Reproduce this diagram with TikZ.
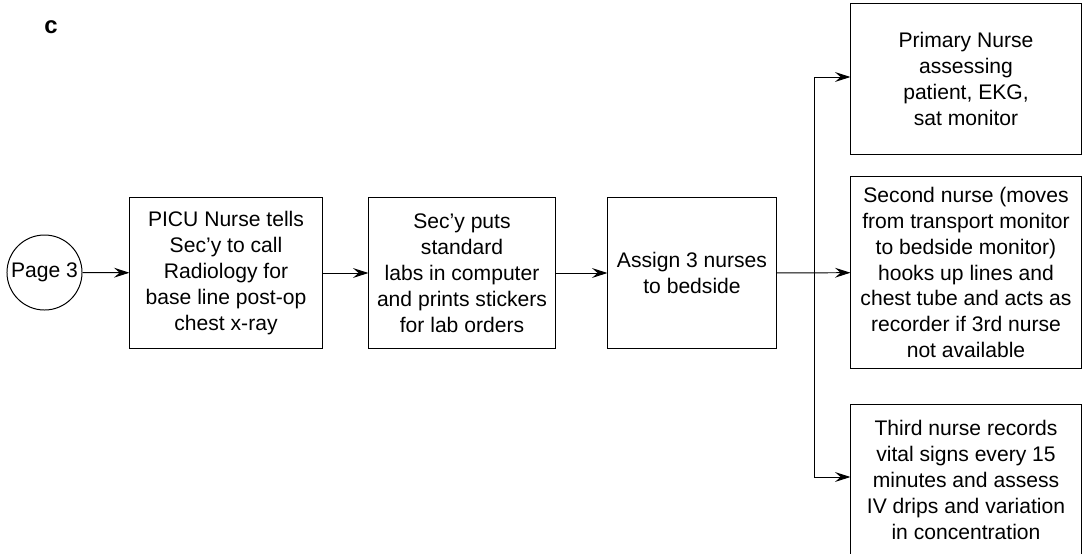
\documentclass[tikz,border=0pt]{standalone}
\usepackage{fontspec}
\setmainfont{Liberation Sans}
\usepackage{tikz}
\usetikzlibrary{arrows.meta}

\begin{document}
\begin{tikzpicture}[x=0.025cm,y=-0.025cm,
  font=\fontsize{15pt}{18.4pt}\selectfont,
  box/.style={rectangle,draw,line width=0.7pt,align=center,inner sep=2pt,minimum height=3.75cm},
  flow/.style={-{Stealth[length=11pt,width=7pt,inset=4pt]},line width=0.7pt}]
\useasboundingbox (0,0) rectangle (1082,553);
\clip (0,0) rectangle (1082,553);
\node (L) at (51,27) {\fontsize{17pt}{17pt}\selectfont\textbf{c}};
\node (P3) at (44.5,272.5) [circle,draw,line width=0.7pt,inner sep=0pt,minimum size=1.875cm] {Page 3};
\node (CX) at (226,273) [box,minimum width=4.8cm] {PICU Nurse tells\\Sec'y to call\\Radiology for\\base line post-op\\chest x-ray};
\node (LAB) at (462,273) [box,minimum width=4.65cm] {Sec'y puts\\standard\\labs in computer\\and prints stickers\\for lab orders};
\node (AS) at (692,273) [box,minimum width=4.2cm] {Assign 3 nurses\\to bedside};
\node (PN) at (966,79) [box,minimum width=5.75cm] {Primary Nurse\\assessing\\patient, EKG,\\sat monitor};
\node (SN) at (966,272.5) [box,minimum width=5.75cm,minimum height=4.775cm] {Second nurse (moves\\from transport monitor\\to bedside monitor)\\hooks up lines and\\chest tube and acts as\\recorder if 3rd nurse\\not available};
\node (TN) at (966,480) [box,minimum width=5.75cm] {Third nurse records\\vital signs every 15\\minutes and assess\\IV drips and variation\\in concentration};
\coordinate (S) at (814,273);

\draw [flow] (P3) -- (CX);
\draw [flow] (CX) -- (LAB);
\draw [flow] (LAB) -- (AS);
\draw [flow] (AS) -- (SN);
\draw [flow] (S) |- (PN.west|-0,77);
\draw [flow] (S) |- (TN.west|-0,477);
\end{tikzpicture}
\end{document}
